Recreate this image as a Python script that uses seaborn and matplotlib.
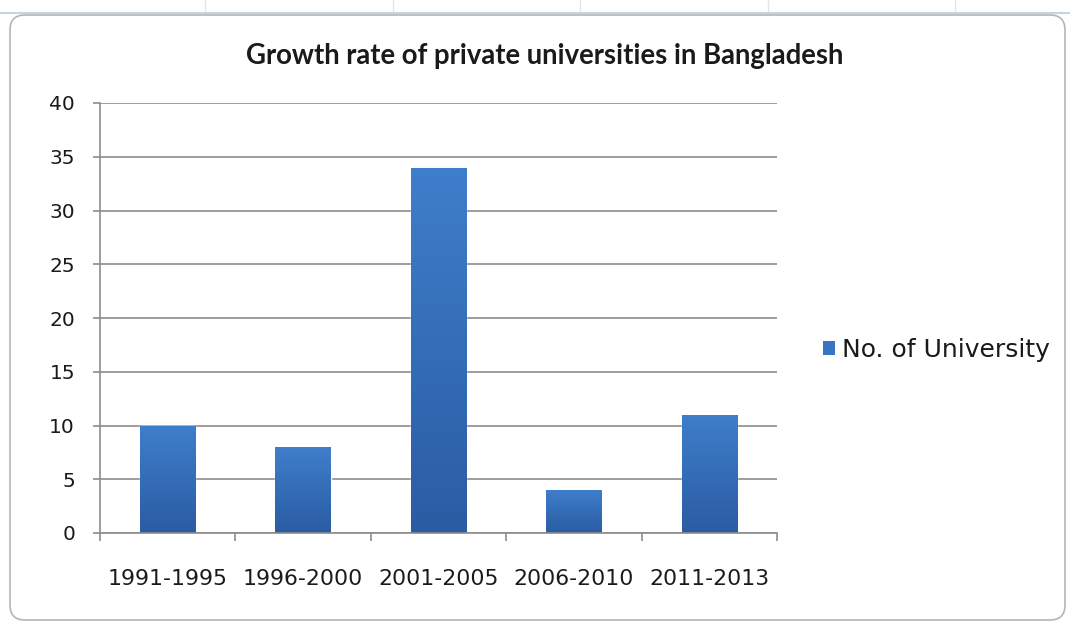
import numpy as np
import pandas as pd
import seaborn as sns
import matplotlib
matplotlib.use("Agg")
import matplotlib.pyplot as plt
from matplotlib.patches import FancyBboxPatch, Patch
from matplotlib.colors import LinearSegmentedColormap
from matplotlib.lines import Line2D

# ---- data ----
categories = ["1991-1995", "1996-2000", "2001-2005", "2006-2010", "2011-2013"]
values = [10, 8, 34, 4, 11]
series_name = "No. of University"
title = "Growth rate of private universities in Bangladesh"
y_ticks = [0, 5, 10, 15, 20, 25, 30, 35, 40]

sns.set_theme(style="white")
plt.rcParams['font.family'] = ['DejaVu Sans']

W, H = 1070, 624
fig = plt.figure(figsize=(W / 100, H / 100), dpi=100)
fig.patch.set_facecolor("white")

# faint spreadsheet grid outside the chart
for xp in [205, 393, 580, 768, 955]:
    fig.add_artist(Line2D([xp / W, xp / W], [1 - 15 / H, 1.0], transform=fig.transFigure,
                          color="#dfe6ee", lw=1, zorder=-2))
fig.add_artist(Line2D([0, 1], [1 - 13 / H, 1 - 13 / H], transform=fig.transFigure,
                      color="#c8d3df", lw=1.5, zorder=-2))

# chart border (rounded)
border = FancyBboxPatch((0.10, 0.04), 10.55, 6.05,
                        boxstyle="round,pad=0,rounding_size=0.15",
                        transform=fig.dpi_scale_trans, facecolor="white",
                        edgecolor="#b5b5b5", lw=1.2, zorder=-1)
fig.patches.append(border)

ax = fig.add_axes([100 / W, 1 - 533 / H, 677 / W, 430 / H])
ax.set_facecolor("none")

df = pd.DataFrame({"Period": categories, "Count": values})
sns.barplot(data=df, x="Period", y="Count", color="#3a74c4", width=0.41,
            ax=ax, saturation=1, zorder=2)

# vertical gradient on bars
cmap = LinearSegmentedColormap.from_list("g", ["#2a5ca3", "#3f7ecb"])
grad = np.linspace(0, 1, 256).reshape(-1, 1)
for p in list(ax.patches):
    x0, y0 = p.get_x(), p.get_y()
    w, h = p.get_width(), p.get_height()
    im = ax.imshow(grad, extent=[x0, x0 + w, y0, y0 + h], origin="lower",
                   aspect="auto", cmap=cmap, zorder=2.5)
    im.set_clip_path(p)

ax.set_xlim(-0.5, len(categories) - 0.5)
ax.set_ylim(0, 40)
ax.set_yticks(y_ticks)
ax.set_xlabel("")
ax.set_ylabel("")

ax.yaxis.grid(True, color="#8c8c8c", lw=1.2)
ax.xaxis.grid(False)
ax.set_axisbelow(True)
for s in ["top", "right"]:
    ax.spines[s].set_visible(False)
for s in ["left", "bottom"]:
    ax.spines[s].set_color("#8c8c8c")
    ax.spines[s].set_linewidth(1.2)

ax.tick_params(axis="y", direction="out", length=5, width=1.2, color="#8c8c8c",
               pad=13, labelsize=14.5, labelcolor="#1a1a1a", left=True)
ax.set_xticks(np.arange(-0.5, len(categories), 1.0), minor=True)
ax.tick_params(axis="x", which="major", length=0, pad=26, labelsize=15.8,
               labelcolor="#1a1a1a")
ax.tick_params(axis="x", which="minor", direction="out", length=6, width=1.2,
               color="#8c8c8c", bottom=True)

fig.text(545 / W, 1 - 56 / H, title, ha="center", va="center", fontsize=19.8,
         fontweight="bold", family=["Lato", "DejaVu Sans"],
         color="#1a1a1a")

handles = [Patch(facecolor="#3a74c4", edgecolor="none")]
fig.legend(handles, [series_name], loc="center left",
           bbox_to_anchor=(800 / W, 1 - 350 / H), frameon=False, fontsize=18,
           handlelength=0.5, handleheight=0.5, handletextpad=0.3,
           labelcolor="#1a1a1a")

fig.savefig("out.png", dpi=100)
